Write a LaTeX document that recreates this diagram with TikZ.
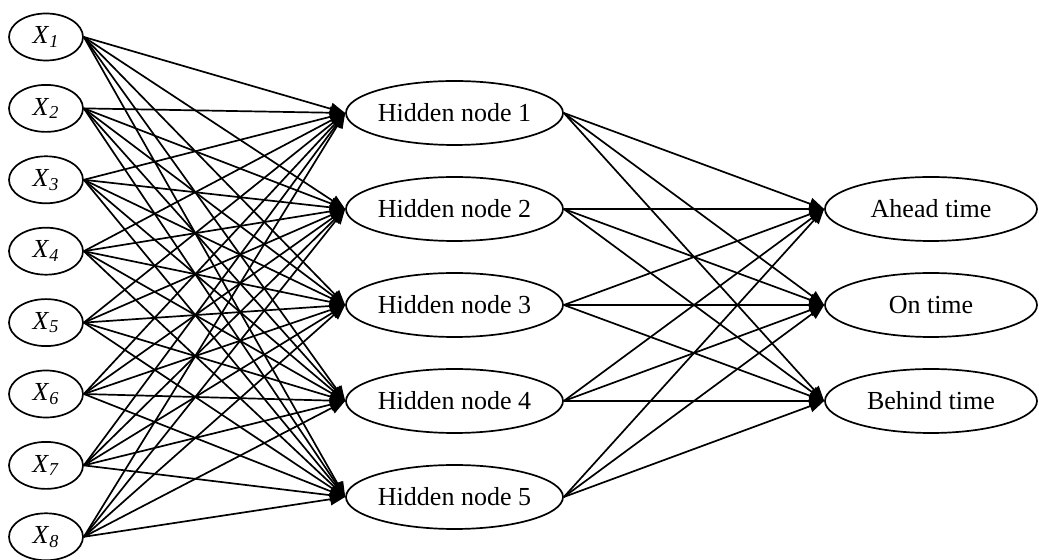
\documentclass[tikz,border=0pt]{standalone}
\usepackage{fontspec}
\setmainfont{Liberation Serif}
\usetikzlibrary{shapes.geometric,arrows.meta}

\begin{document}
\begin{tikzpicture}[x=0.5pt,y=-0.5pt,line width=0.85pt,
		font=\fontsize{13}{15}\selectfont,
		inp/.style={draw,ellipse,inner sep=0pt,minimum width=37pt,minimum height=23.5pt},
		hid/.style={draw,ellipse,inner sep=0pt,minimum width=108.5pt,minimum height=32pt},
		outp/.style={draw,ellipse,inner sep=0pt,minimum width=106pt,minimum height=32pt},
		>={Triangle[length=7.5pt,width=6pt]}]
			\useasboundingbox (0,0) rectangle (1039,560);
			
			\foreach \i in {1,...,8}
				\node[inp] (x\i) at (46,{37+71.4*(\i-1)}) {\textit{X}\textsubscript{\textit{\i}}};
			
			\foreach \j in {1,...,5}
				\node[hid] (h\j) at (454.5,{113+96*(\j-1)}) {Hidden node \j};
			
			\node[outp] (o1) at (931,209) {Ahead time};
			\node[outp] (o2) at (931,305) {On time};
			\node[outp] (o3) at (931,401) {Behind time};
			
			\foreach \i in {1,...,8}
				\foreach \j in {1,...,5}
					\path (x\i.east) edge[draw,->] (h\j.west);
			
			\foreach \j in {1,...,5}
				\foreach \k in {1,2,3}
					\path (h\j.east) edge[draw,->] (o\k.west);
		\end{tikzpicture}
\end{document}
